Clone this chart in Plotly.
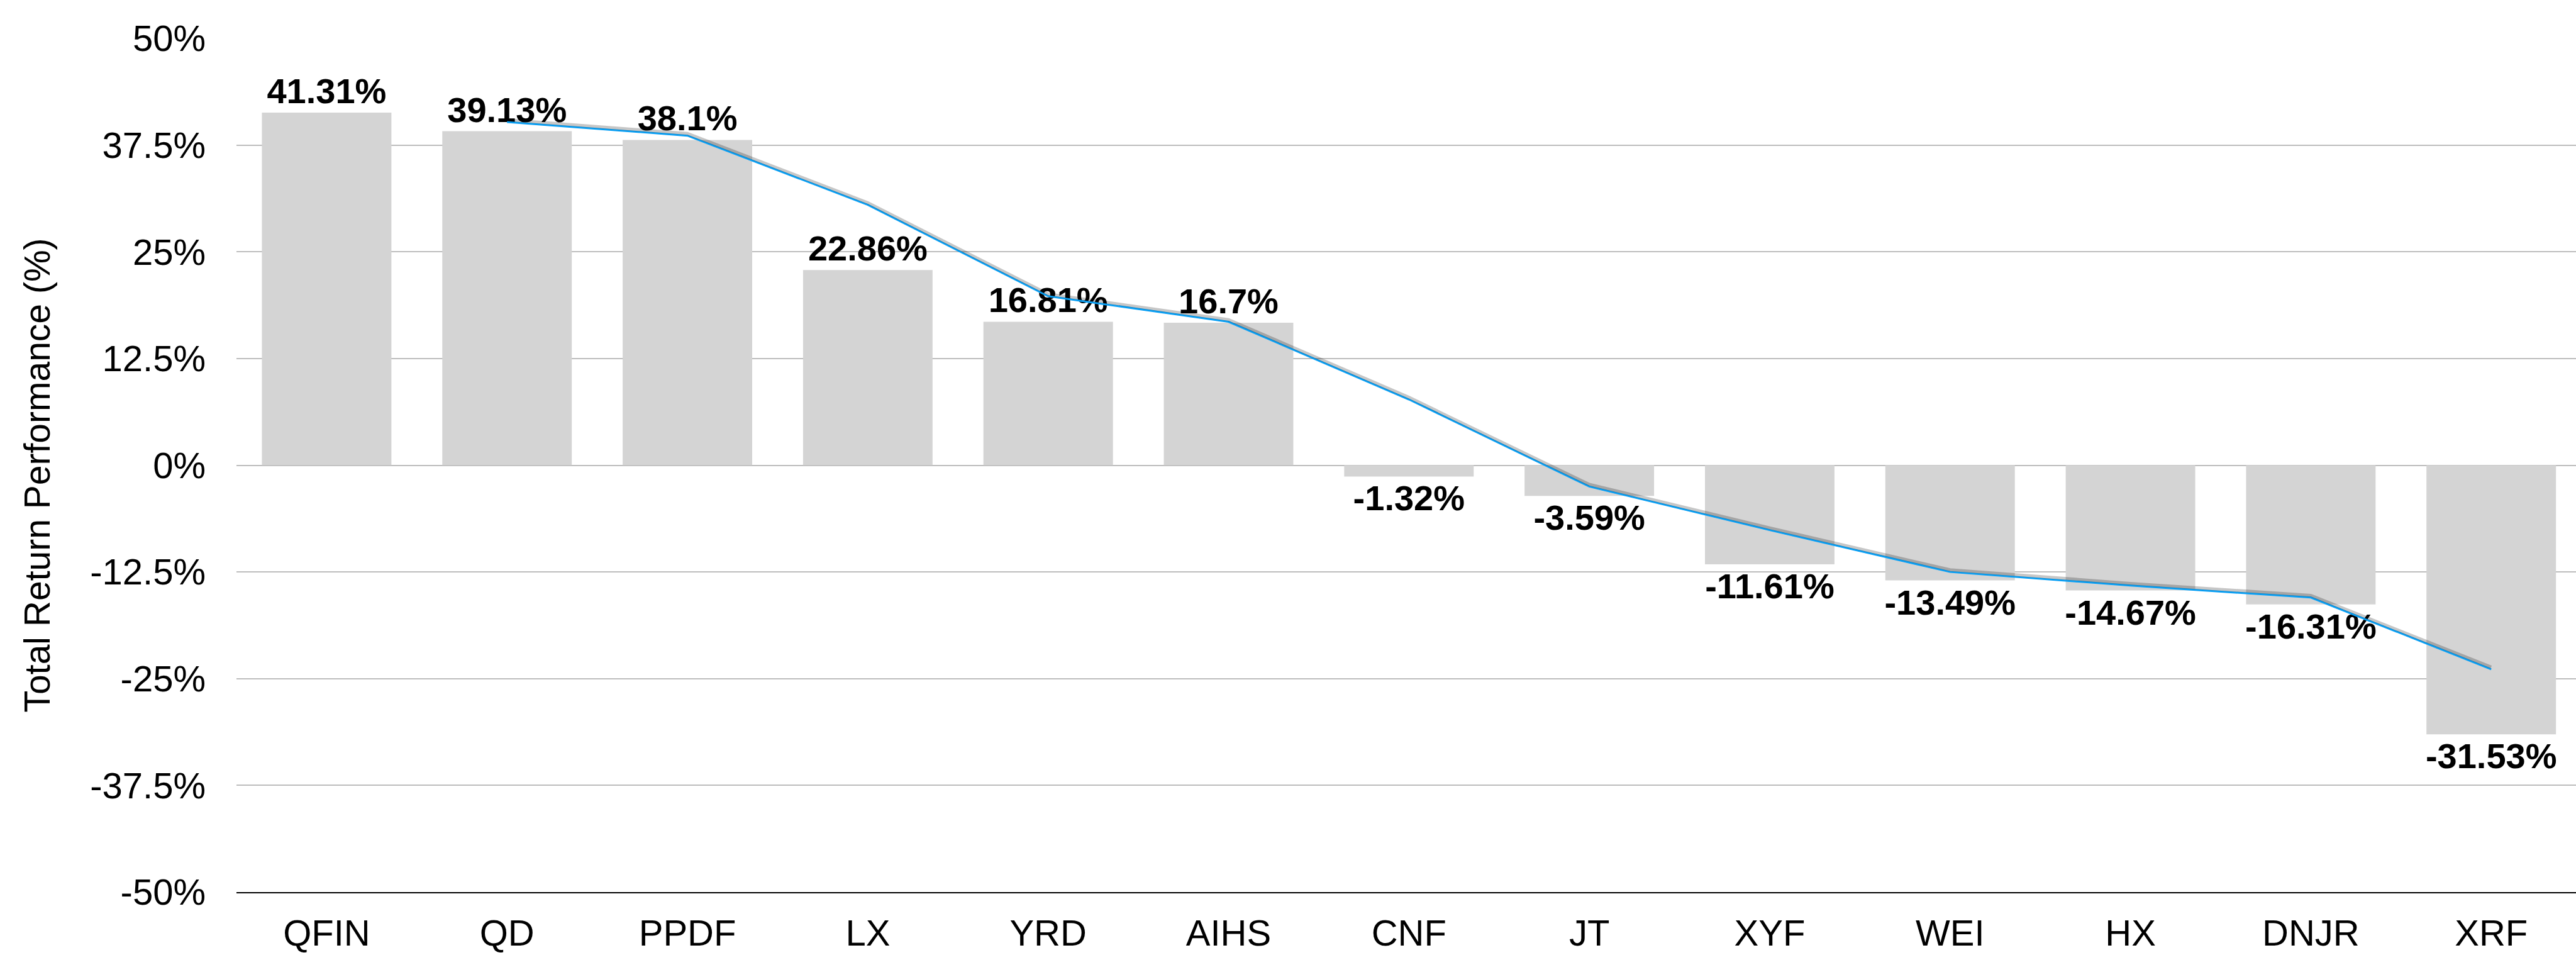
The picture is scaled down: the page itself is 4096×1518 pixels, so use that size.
import plotly.graph_objects as go

tickers = ["QFIN", "QD", "PPDF", "LX", "YRD", "AIHS", "CNF", "JT", "XYF", "WEI", "HX", "DNJR", "XRF"]
total_return = [41.31, 39.13, 38.1, 22.86, 16.81, 16.7, -1.32, -3.59, -11.61, -13.49, -14.67, -16.31, -31.53]
# trend line (starts at QD)
trend_x = ["QD", "PPDF", "LX", "YRD", "AIHS", "CNF", "JT", "XYF", "WEI", "HX", "DNJR", "XRF"]
trend_y = [40.2, 38.6, 30.5, 19.8, 16.8, 7.7, -2.5, -7.6, -12.5, -14.1, -15.5, -23.9]
y_ticks = [50, 37.5, 25, 12.5, 0, -12.5, -25, -37.5, -50]
y_tick_labels = ["50%", "37.5%", "25%", "12.5%", "0%", "-12.5%", "-25%", "-37.5%", "-50%"]

labels = [f"{v:g}%" for v in total_return]

FONT = "Liberation Sans, Arial, Helvetica, sans-serif"

fig = go.Figure()
fig.add_trace(go.Bar(
    x=tickers, y=total_return, marker=dict(color="#d4d4d4", line=dict(width=0)),
    text=labels, textposition="outside", constraintext="none", cliponaxis=False,
    textfont=dict(family=FONT, size=56, color="#000000", weight="bold"),
    showlegend=False, hoverinfo="x+y",
))
# soft shadow under the trend line (same data drawn on a slightly shifted axis)
fig.add_trace(go.Scatter(
    x=trend_x, y=trend_y, mode="lines", yaxis="y2",
    line=dict(color="rgba(0,0,0,0.22)", width=5), showlegend=False, hoverinfo="skip",
))
fig.add_trace(go.Scatter(
    x=trend_x, y=trend_y, mode="lines",
    line=dict(color="#0aa0f5", width=3), showlegend=False,
))

fig.update_layout(
    width=4096, height=1518,
    margin=dict(l=376, r=0, t=61, b=100, pad=0, autoexpand=False),
    paper_bgcolor="white", plot_bgcolor="white",
    bargap=0.282,
    font=dict(family=FONT, size=58, color="#000000"),
    xaxis=dict(
        type="category", range=[-0.5, 12.47], showgrid=False, automargin=False,
        showline=True, linecolor="#000000", linewidth=2,
        ticks="", ticklabelstandoff=13,
        tickfont=dict(family=FONT, size=58, color="#000000"),
    ),
    yaxis=dict(
        range=[-50, 50], tickmode="array", tickvals=y_ticks, ticktext=y_tick_labels,
        showgrid=True, gridcolor="#bdbdbd", gridwidth=2, automargin=False,
        zeroline=True, zerolinecolor="#bdbdbd", zerolinewidth=2,
        showline=False, ticks="", ticklabelstandoff=48,
        tickfont=dict(family=FONT, size=58, color="#000000"),
    ),
    yaxis2=dict(
        overlaying="y", range=[-50.25, 49.75], visible=False, showgrid=False,
    ),
    annotations=[dict(
        text="Total Return Performance (%)", textangle=-90,
        xref="paper", yref="paper", x=-0.0851, y=0.4886,
        xanchor="center", yanchor="middle", showarrow=False,
        font=dict(family=FONT, size=57, color="#000000"),
    )],
)

fig.write_html(
    "out.html",
    config={"displayModeBar": False},
    post_script="document.body.style.margin='0';document.body.style.overflow='hidden';",
)
